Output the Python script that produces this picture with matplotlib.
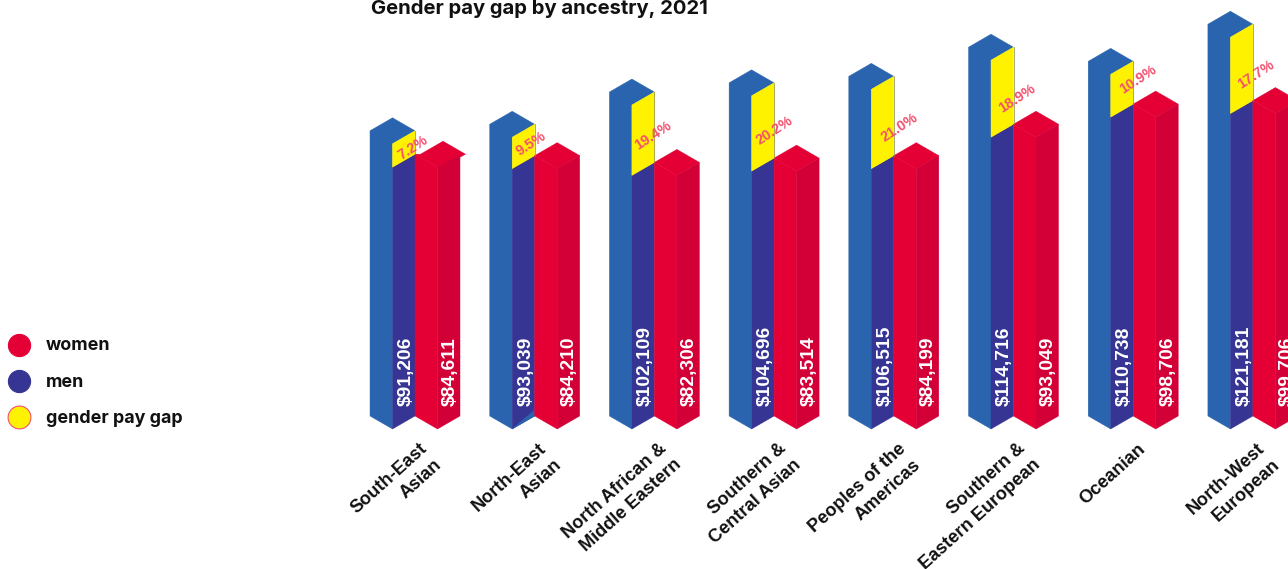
import matplotlib
matplotlib.use("Agg")
import matplotlib.pyplot as plt

categories = ["South-East\nAsian", "North-East\nAsian", "North African &\nMiddle Eastern",
              "Southern &\nCentral Asian", "Peoples of the\nAmericas",
              "Southern &\nEastern European", "Oceanian", "North-West\nEuropean"]
men = [91206, 93039, 102109, 104696, 106515, 114716, 110738, 121181]
women = [84611, 84210, 82306, 83514, 84199, 93049, 98706, 99706]
gap = [7.2, 9.5, 19.4, 20.2, 21.0, 18.9, 10.9, 17.7]

BLUE_LIGHT = "#2a64ae"
BLUE_DARK = "#373594"
RED = "#e40035"
RED_DARK = "#d30037"
YELLOW = "#fff200"
PINK = "#f4506f"

plt.rcParams["font.family"] = ["Liberation Sans", "DejaVu Sans"]
plt.rcParams["font.weight"] = "bold"

W, H = 1288, 569
fig = plt.figure(figsize=(W / 100, H / 100), dpi=100)
ax = fig.add_axes([0, 0, 1, 1])
ax.axis("off")

# the bars sit on a cut-off value axis
base = 10970
px_per_dollar = 3.555 / 1000
x0_px = 415
step_px = 119.7
base_px = 429
ax.set_xlim(-x0_px / step_px, (W - x0_px) / step_px)
ax.set_ylim(base - (H - base_px) / px_per_dollar, base + base_px / px_per_dollar)

w = 22.5 / step_px      # width of one face
drop = 13 / px_per_dollar   # slant of the isometric edges
px_x = 1 / step_px
px_y = 1 / px_per_dollar

# small shifts of the percent labels, in pixels (right, down)
gap_dx = [0, -1, 1, 3, 8, 6, 7, 5]
gap_dy = [-2, -3, 1, 3, 4, 6, -10, 5]


def poly(xs, ys, color):
    ax.fill(xs, ys, color=color, lw=0.3)


for i in range(len(categories)):
    m, f = men[i], women[i]

    # men: left face and top in one piece, then the right face split at the women's height
    poly([i - 2 * w, i - w, i - w, i, i - w, i - 2 * w],
         [base + drop, base, m, m + drop, m + 2 * drop, m + drop], BLUE_LIGHT)
    poly([i - w, i, i, i - w], [base, base + drop, f + drop, f], BLUE_DARK)
    poly([i - w, i, i, i - w], [f, f + drop, m + drop, m], YELLOW)
    ax.plot([i, i], [f + drop, m + drop], color="#8a8a40", lw=0.5)
    if i == 1:
        # sliver of the light face under the dark one
        poly([i - w, i, i], [base, base + drop, base + drop + 6 * px_y], BLUE_LIGHT)

    # women
    if i == 0:
        # the first top face sits a little off the column
        s = 5.5 * px_x
        poly([i, i + s, i + w + s, i + 2 * w + s, i + 2 * w, i + w],
             [f + drop, f + drop, f + 2 * drop, f + drop, f + drop - 3 * px_y, f], RED)
    else:
        poly([i, i + w, i + 2 * w, i + w], [f + drop, f + 2 * drop, f + drop, f], RED)
    poly([i, i + w, i + w, i], [base + drop, base, f, f + drop], RED)
    poly([i + w, i + 2 * w, i + 2 * w, i + w], [base, base + drop, f + drop, f], RED_DARK)

    ax.annotate(f"${m:,}", xy=(i - 0.5 * w, base + 6400), xytext=(1.8, 0),
                textcoords="offset points", rotation=90, color="white", fontsize=13.9,
                ha="center", va="bottom")
    ax.annotate(f"${f:,}", xy=(i + 1.5 * w, base + 6400), xytext=(0.8, 0),
                textcoords="offset points", rotation=90, color="white", fontsize=13.9,
                ha="center", va="bottom")

    ax.annotate(f"{gap[i]:.1f}%", xy=(i - 0.1 * w, (m + f) / 2 + drop - 2000),
                xytext=(gap_dx[i] * 0.72, -gap_dy[i] * 0.72), textcoords="offset points",
                rotation=33, color=PINK, fontsize=10.4, ha="center", va="center",
                rotation_mode="anchor")

    ax.annotate(categories[i], xy=(i + 0.3 * w, base), xytext=(-2, -8),
                textcoords="offset points", rotation=42, rotation_mode="anchor",
                ha="right", va="top", ma="right", fontsize=13.1, color="#111111",
                linespacing=1.36, annotation_clip=False)

fig.text(371 / W, 1 - 14 / H, "Gender pay gap by ancestry, 2021", fontsize=14.55,
         family=["Inter", "DejaVu Sans"], color="#111111", ha="left", va="baseline")

# legend drawn by hand at the left
legend_labels = ["women", "men", "gender pay gap"]
legend_fill = [RED, BLUE_DARK, YELLOW]
legend_edge = [RED, BLUE_DARK, "#f4506f"]
legend_y = [345.3, 380.5, 416.5]
legend_s = [255, 255, 270]
legend_text_y = [350, 387, 423]
for label, fc, ec, y, s, ty in zip(legend_labels, legend_fill, legend_edge, legend_y, legend_s,
                                   legend_text_y):
    ax.scatter([(19.3 - x0_px) / step_px], [base + (base_px - y) / px_per_dollar], s=s,
               facecolor=fc, edgecolor=ec, lw=0.8, clip_on=False)
    fig.text(46 / W, 1 - ty / H, label, fontsize=12.9, color="#111111", va="baseline",
             family=["Inter", "DejaVu Sans"])

fig.savefig("out.png", dpi=100)
